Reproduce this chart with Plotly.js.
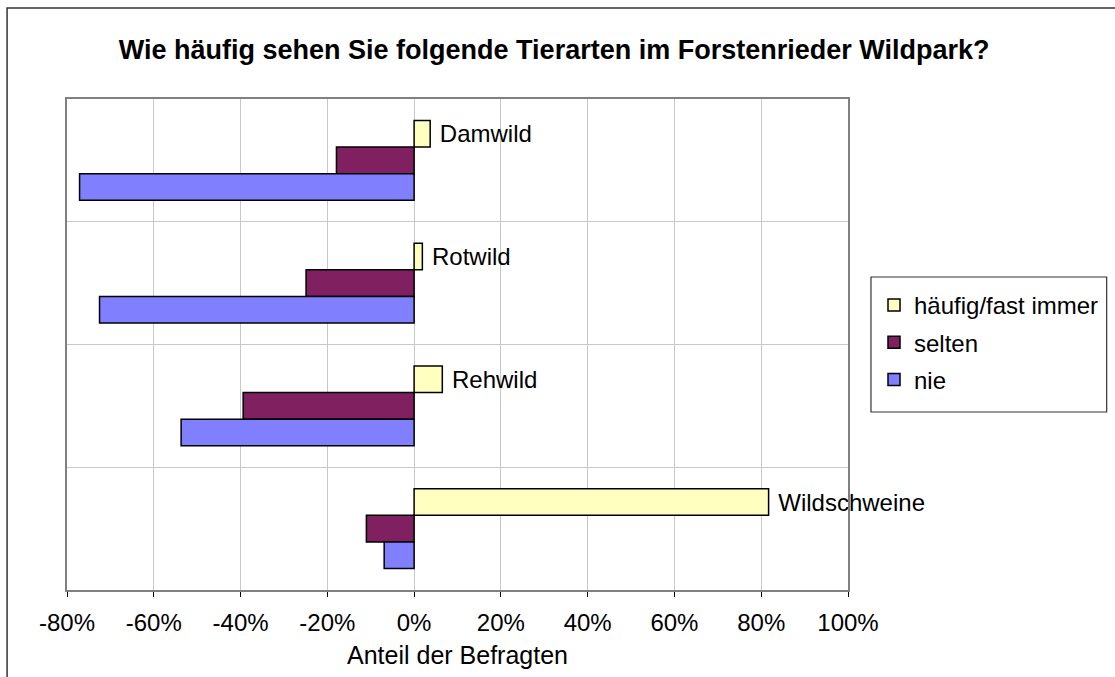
<!DOCTYPE html>
<html>
<head>
<meta charset="utf-8">
<script src="https://cdn.plot.ly/plotly-3.0.1.min.js"></script>
<style>
  html, body { margin: 0; padding: 0; background: #ffffff; }
  #chart { width: 1115px; height: 677px; }
</style>
</head>
<body>
<div id="chart"></div>
<script>
// Categories (top to bottom)
const categories = ['Damwild', 'Rotwild', 'Rehwild', 'Wildschweine'];
// Series values (share of respondents, negative = left side)
const haeufig = [0.037, 0.019, 0.065, 0.817];
const selten  = [-0.179, -0.249, -0.394, -0.110];
const nie     = [-0.771, -0.725, -0.537, -0.069];
const seriesNames = ['häufig/fast immer', 'selten', 'nie'];
const xTickVals = [-0.8, -0.6, -0.4, -0.2, 0, 0.2, 0.4, 0.6, 0.8, 1.0];
const xTickText = ['-80%', '-60%', '-40%', '-20%', '0%', '20%', '40%', '60%', '80%', '100%'];

const FONT = 'Liberation Sans, Arial, Helvetica, sans-serif';
const outline = { color: '#000000', width: 1.5 };

const traces = [
  {
    type: 'bar', orientation: 'h', name: seriesNames[0], legendgroup: 'g1',
    y: categories, x: haeufig,
    marker: { color: '#FFFFC0', line: outline },
    text: categories.map(c => ' ' + c),
    textposition: 'outside',
    constraintext: 'none',
    cliponaxis: false,
    textfont: { family: FONT, size: 24, color: '#000000' },
    hoverinfo: 'x+y'
  },
  {
    type: 'bar', orientation: 'h', name: seriesNames[1], legendgroup: 'g2',
    y: categories, x: selten,
    marker: { color: '#802060', line: outline },
    hoverinfo: 'x+y'
  },
  {
    type: 'bar', orientation: 'h', name: seriesNames[2], legendgroup: 'g3',
    y: categories, x: nie,
    marker: { color: '#8080FF', line: outline },
    hoverinfo: 'x+y'
  }
];

const plotL = 67, plotR = 849, plotT = 99, plotB = 590;
const W = 1115, H = 677;
const pw = plotR - plotL, ph = plotB - plotT;
const px = v => (v - plotL) / pw;
const py = v => (plotB - v) / ph;

const layout = {
  width: W, height: H,
  margin: { l: plotL, r: W - plotR, t: plotT, b: H - plotB, pad: 0 },
  paper_bgcolor: '#ffffff',
  plot_bgcolor: '#ffffff',
  font: { family: FONT, size: 24, color: '#000000' },
  title: {
    text: '<b>Wie häufig sehen Sie folgende Tierarten im Forstenrieder Wildpark?</b>',
    font: { family: FONT, size: 27, color: '#000000' },
    x: 0.497, xref: 'container', xanchor: 'center',
    y: 1 - 50 / H, yref: 'container', yanchor: 'middle'
  },
  barmode: 'group',
  bargap: 0.35,
  bargroupgap: 0,
  showlegend: true,
  legend: {
    x: px(874), xanchor: 'left',
    y: py(283), yanchor: 'top',
    bgcolor: 'rgba(255,255,255,0)',
    borderwidth: 0,
    font: { family: FONT, size: 24, color: '#000000' },
    traceorder: 'grouped',
    itemwidth: 30,
    tracegroupgap: 3
  },
  xaxis: {
    range: [-0.8, 1.0],
    tickvals: xTickVals,
    ticktext: xTickText,
    showgrid: true, gridcolor: '#c8c8c8', gridwidth: 1,
    zeroline: false,
    showline: true, linecolor: '#808080', linewidth: 2, mirror: true,
    ticks: 'outside', ticklen: 5, tickcolor: '#000000',
    ticklabelstandoff: 5,
    tickfont: { family: FONT, size: 24 },
    title: { text: 'Anteil der Befragten', font: { family: FONT, size: 25 }, standoff: 12 },
    fixedrange: true
  },
  yaxis: {
    type: 'category',
    autorange: 'reversed',
    showticklabels: false,
    tickson: 'boundaries',
    ticks: '',
    showgrid: true, gridcolor: '#c8c8c8', gridwidth: 1,
    zeroline: false,
    showline: true, linecolor: '#808080', linewidth: 2, mirror: true,
    fixedrange: true
  },
  shapes: [
    {
      type: 'rect', xref: 'paper', yref: 'paper',
      x0: px(7), x1: px(W + 20),
      y0: py(H + 20), y1: py(8),
      line: { color: '#333333', width: 1.5 },
      fillcolor: 'rgba(0,0,0,0)',
      layer: 'below'
    },
    {
      type: 'rect', xref: 'paper', yref: 'paper',
      x0: px(872), x1: px(1108),
      y0: py(412), y1: py(277),
      line: { color: '#333333', width: 1.2 },
      fillcolor: '#ffffff',
      layer: 'below'
    }
  ]
};

Plotly.newPlot('chart', traces, layout, { displayModeBar: false, responsive: false });
</script>
</body>
</html>
